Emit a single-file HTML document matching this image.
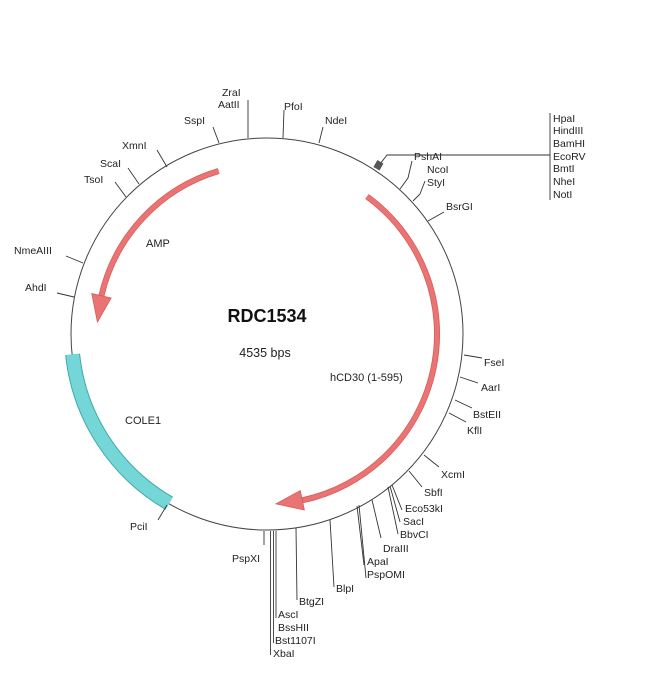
<!DOCTYPE html>
<html><head><meta charset="utf-8"><style>
html,body{margin:0;padding:0;background:#fff;}
svg{display:block;}
text{font-family:"Liberation Sans",sans-serif;font-size:10.5px;fill:#222;}
</style></head><body>
<svg width="650" height="676" viewBox="0 0 650 676" xmlns="http://www.w3.org/2000/svg">
<rect width="650" height="676" fill="#fff"/>
<circle cx="267" cy="334" r="196" fill="none" stroke="#444" stroke-width="1"/>
<!-- COLE1 -->
<path d="M72.6,354.4 A195.5 195.5 0 0 0 169.25,503.3" fill="none" stroke="#3fa9a9" stroke-width="15"/>
<path d="M72.6,354.4 A195.5 195.5 0 0 0 169.25,503.3" fill="none" stroke="#74d6d6" stroke-width="13"/>
<!-- AMP -->
<path d="M218.7,171 A170 170 0 0 0 101.4,295.8" fill="none" stroke="#d85a5a" stroke-width="6"/>
<path d="M218.7,171 A170 170 0 0 0 101.4,295.8" fill="none" stroke="#ea7474" stroke-width="4.5"/>
<polygon points="111.2,298 91.7,293.5 97.4,322.1" fill="#ea7474" stroke="#d05555" stroke-width="0.7"/>
<!-- hCD30 -->
<path d="M367,196.5 A170 170 0 0 1 302.3,500.3" fill="none" stroke="#d85a5a" stroke-width="6"/>
<path d="M367,196.5 A170 170 0 0 1 302.3,500.3" fill="none" stroke="#ea7474" stroke-width="4.5"/>
<polygon points="300.3,490.5 304.4,510.1 275.9,503.8" fill="#ea7474" stroke="#d05555" stroke-width="0.7"/>

<g stroke="#333" stroke-width="0.9" fill="none">
<line x1="248" y1="138" x2="248" y2="100"/>
<line x1="283" y1="138" x2="284" y2="110"/>
<line x1="319" y1="143" x2="323" y2="127"/>
<line x1="219" y1="143" x2="213" y2="127"/>
<line x1="167" y1="167" x2="157" y2="150"/>
<line x1="139" y1="184" x2="128" y2="168"/>
<line x1="126" y1="197" x2="115" y2="182"/>
<line x1="83" y1="263" x2="66" y2="256"/>
<line x1="74" y1="297" x2="57" y2="293"/>
<line x1="167" y1="505" x2="158" y2="520"/>
<polyline points="400,189 408,178 412,161"/>
<polyline points="413,201 420,194 425,181"/>
<line x1="428" y1="221" x2="444" y2="212"/>
<line x1="464" y1="355" x2="482" y2="358"/>
<line x1="460" y1="377" x2="478" y2="383"/>
<line x1="455" y1="400" x2="472" y2="408"/>
<line x1="449" y1="413" x2="466" y2="422"/>
<line x1="424" y1="455" x2="439" y2="467"/>
<line x1="409" y1="471" x2="422" y2="487"/>
<line x1="392" y1="485" x2="402" y2="510"/>
<line x1="390" y1="486" x2="400" y2="522"/>
<line x1="388" y1="487" x2="398" y2="534"/>
<line x1="372" y1="500" x2="381" y2="538"/>
<line x1="357" y1="506" x2="364" y2="565"/>
<line x1="359" y1="505" x2="366" y2="578"/>
<line x1="330" y1="520" x2="334" y2="587"/>
<line x1="296" y1="528" x2="297" y2="600"/>
<line x1="264" y1="531" x2="264" y2="545"/>
<polyline points="380,164 387,155 550,155"/>
<line x1="550" y1="113" x2="550" y2="200"/>
</g>
<g stroke="#222" stroke-width="0.8">
<line x1="270.5" y1="531" x2="270.5" y2="655"/>
<line x1="273.5" y1="531" x2="273.5" y2="643"/>
<line x1="276" y1="531" x2="276" y2="618"/>
</g>
<rect x="375" y="161" width="7" height="8" fill="#555" transform="rotate(30 378 165)"/>

<text x="222" y="96">ZraI</text>
<text x="218" y="108">AatII</text>
<text x="284" y="110">PfoI</text>
<text x="325" y="124">NdeI</text>
<text x="184" y="124">SspI</text>
<text x="122" y="149">XmnI</text>
<text x="100" y="167">ScaI</text>
<text x="84" y="183">TsoI</text>
<text x="14" y="254">NmeAIII</text>
<text x="25" y="291">AhdI</text>
<text x="130" y="530">PciI</text>
<text x="414" y="160">PshAI</text>
<text x="427" y="173">NcoI</text>
<text x="427" y="186">StyI</text>
<text x="446" y="210">BsrGI</text>
<text x="553" y="122">HpaI</text>
<text x="553" y="134">HindIII</text>
<text x="553" y="147">BamHI</text>
<text x="553" y="160">EcoRV</text>
<text x="553" y="172">BmtI</text>
<text x="553" y="185">NheI</text>
<text x="553" y="198">NotI</text>
<text x="484" y="366">FseI</text>
<text x="481" y="391">AarI</text>
<text x="473" y="418">BstEII</text>
<text x="467" y="434">KflI</text>
<text x="441" y="478">XcmI</text>
<text x="424" y="496">SbfI</text>
<text x="405" y="512">Eco53kI</text>
<text x="403" y="525">SacI</text>
<text x="400" y="538">BbvCI</text>
<text x="383" y="552">DraIII</text>
<text x="367" y="565">ApaI</text>
<text x="367" y="578">PspOMI</text>
<text x="336" y="592">BlpI</text>
<text x="299" y="605">BtgZI</text>
<text x="278" y="618">AscI</text>
<text x="278" y="631">BssHII</text>
<text x="275" y="644">Bst1107I</text>
<text x="273" y="657">XbaI</text>
<text x="260" y="562" text-anchor="end">PspXI</text>

<text x="267" y="322" text-anchor="middle" style="font-size:18px;font-weight:bold;fill:#111">RDC1534</text>
<text x="265" y="357" text-anchor="middle" style="font-size:12.5px">4535 bps</text>
<text x="146" y="247" style="font-size:11px">AMP</text>
<text x="125" y="424" style="font-size:11px">COLE1</text>
<text x="330" y="381" style="font-size:11px">hCD30 (1-595)</text>
</svg>
</body></html>
